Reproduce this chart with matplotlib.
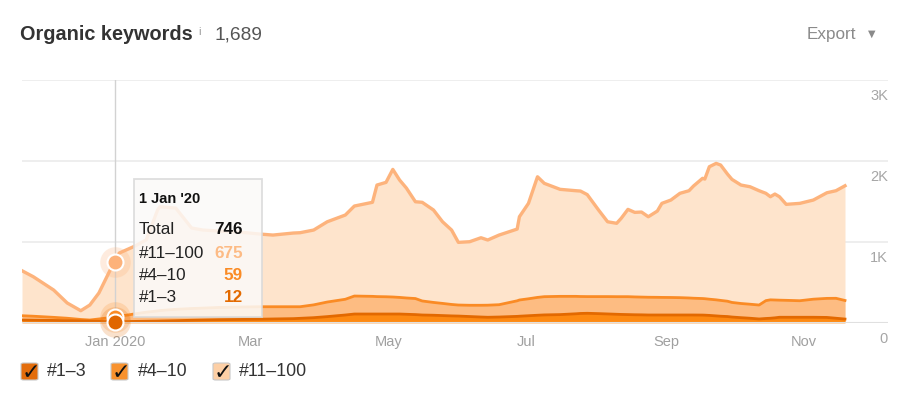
import matplotlib
matplotlib.use("Agg")
import matplotlib.pyplot as plt
import matplotlib.dates as mdates
import matplotlib.patches as mpatches
from matplotlib.transforms import ScaledTranslation
import numpy as np
import pandas as pd

plt.rcParams['font.family'] = ['Liberation Sans', 'DejaVu Sans']

# ---------------- data ----------------
dates = ["2019-11-21", "2019-11-26", "2019-12-05", "2019-12-11", "2019-12-17", "2019-12-21",
         "2019-12-25", "2019-12-30", "2020-01-01", "2020-01-03", "2020-01-08", "2020-01-10",
         "2020-01-15", "2020-01-20", "2020-01-21", "2020-01-28", "2020-02-04", "2020-02-09",
         "2020-02-16", "2020-02-25", "2020-03-05", "2020-03-11", "2020-03-20", "2020-03-23",
         "2020-03-29", "2020-04-04", "2020-04-12", "2020-04-16", "2020-04-24", "2020-04-26",
         "2020-04-30", "2020-05-03", "2020-05-06", "2020-05-09", "2020-05-13", "2020-05-16",
         "2020-05-21", "2020-05-25", "2020-05-29", "2020-06-01", "2020-06-06", "2020-06-11",
         "2020-06-14", "2020-06-19", "2020-06-27", "2020-06-28", "2020-07-02", "2020-07-06",
         "2020-07-09", "2020-07-16", "2020-07-23", "2020-07-25", "2020-07-28", "2020-08-02",
         "2020-08-06", "2020-08-10", "2020-08-12", "2020-08-15", "2020-08-18", "2020-08-21",
         "2020-08-24", "2020-08-28", "2020-08-30", "2020-09-03", "2020-09-07", "2020-09-11",
         "2020-09-13", "2020-09-17", "2020-09-18", "2020-09-20", "2020-09-23", "2020-09-25",
         "2020-09-28", "2020-09-30", "2020-10-04", "2020-10-08", "2020-10-12", "2020-10-15",
         "2020-10-17", "2020-10-19", "2020-10-21", "2020-10-24", "2020-10-30", "2020-11-05",
         "2020-11-11", "2020-11-15", "2020-11-19"]

kw_1_3 = [33, 31, 28, 25, 22, 20, 17, 14, 12, 13, 15, 16,
          18, 20, 21, 25, 30, 33, 37, 40, 43, 46, 50, 54,
          62, 75, 95, 107, 107, 107, 107, 107, 107, 104, 100, 95,
          92, 88, 84, 82, 76, 70, 67, 70, 78, 80, 86, 92,
          96, 100, 110, 114, 116, 112, 108, 104, 102, 100, 98, 97,
          95, 95, 95, 95, 95, 95, 95, 94, 93, 90, 84, 80,
          76, 70, 62, 55, 46, 52, 55, 60, 67, 67, 67, 67,
          65, 55, 45]

kw_4_10 = [53, 49, 38, 30, 18, 13, 29, 48, 59, 67, 85, 94,
           112, 125, 129, 140, 145, 147, 151, 153, 154, 151, 147, 143,
           158, 180, 194, 222, 218, 215, 213, 210, 205, 201, 198, 173,
           158, 150, 141, 136, 139, 145, 149, 152, 192, 200, 209, 220,
           225, 225, 215, 209, 206, 210, 214, 217, 219, 221, 220, 219,
           219, 218, 217, 216, 214, 210, 207, 204, 203, 200, 198, 195,
           189, 180, 175, 173, 172, 220, 227, 220, 211, 209, 204, 223,
           235, 246, 229]

kw_11_100 = [555, 487, 337, 188, 108, 185, 320, 588, 675, 779, 821, 836,
             893, 1248, 1280, 1249, 993, 963, 943, 925, 897, 884, 909, 913,
             923, 990, 1039, 1110, 1160, 1376, 1411, 1574, 1448, 1356, 1194, 1217,
             1140, 1007, 918, 773, 784, 833, 804, 859, 885, 1027, 1177, 1488,
             1398, 1320, 1303, 1301, 1258, 1068, 923, 905, 966, 1077, 1043, 1049,
             993, 1064, 1160, 1202, 1287, 1323, 1384, 1483, 1476, 1634, 1683, 1670,
             1569, 1518, 1461, 1449, 1410, 1324, 1272, 1307, 1276, 1184, 1201, 1223,
             1303, 1327, 1415]

series_labels = ["#1–3", "#4–10", "#11–100"]
x_tick_dates = ["2020-01-01", "2020-03-01", "2020-05-01", "2020-07-01", "2020-09-01", "2020-11-01"]
x_tick_labels = ["Jan 2020", "Mar", "May", "Jul", "Sep", "Nov"]
y_ticks = [0, 1000, 2000, 3000]
y_tick_labels = ["0", "1K", "2K", "3K"]
title_text = "Organic keywords"
title_total = "1,689"
focus_date = "2020-01-01"
focus_label = "1 Jan '20"

# ---------------- styling ----------------
fill_cols = ["#fe8a12", "#fdbc82", "#fee4cc"]
line_cols = ["#e36900", "#fa8b25", "#fdb37c"]
box_cols = ["#e36d0c", "#f8922e", "#fdcfa5"]
val_cols = ["#e36a00", "#fa8b25", "#fdbb85"]

W, H = 917, 399
fig = plt.figure(figsize=(W / 100, H / 100), dpi=100)
fig.patch.set_facecolor("white")


def fx(px):
    return px / W


def fy(py):
    return 1 - py / H


ax = fig.add_axes([fx(22), fy(322.7), fx(888) - fx(22), fy(79.5) - fy(322.7)])

d = pd.to_datetime(dates)
xn = mdates.date2num(d)
s1 = np.array(kw_1_3)
s2 = np.array(kw_4_10)
s3 = np.array(kw_11_100)
c1 = s1
c2 = s1 + s2
c3 = s1 + s2 + s3

ax.fill_between(d, 0, c3, color=fill_cols[2], lw=0, zorder=2)
ax.fill_between(d, 0, c2, color=fill_cols[1], lw=0, zorder=3)
ax.fill_between(d, 0, c1, color=fill_cols[0], lw=0, zorder=4)
ax.plot(d, c3, color=line_cols[2], lw=2.4, zorder=5, solid_joinstyle='round')
ax.plot(d, c2, color=line_cols[1], lw=2.0, zorder=5, solid_joinstyle='round')
ax.plot(d, c1, color=line_cols[0], lw=2.0, zorder=6, solid_joinstyle='round')

# x range: data starts at left edge, ends at 845 px of an axes spanning 22..888 px
px_per_day = (845 - 22) / (xn[-1] - xn[0])
ax.set_xlim(xn[0], xn[0] + (888 - 22) / px_per_day)
ax.set_ylim(0, 3000)

for sp in ax.spines.values():
    sp.set_visible(False)
ax.set_yticks(y_ticks, labels=y_tick_labels)
ax.grid(axis='y', color="#ebebeb", lw=1.2, zorder=1)
ax.set_axisbelow(True)
ax.axhline(0, color="#e0e0e0", lw=1.5, zorder=7)
ax.yaxis.tick_right()
ax.tick_params(axis='y', length=0, pad=0, labelsize=10.5, labelcolor="#a6a6a6")
off = ScaledTranslation(0, -16 / 100, fig.dpi_scale_trans)
for lab in ax.get_yticklabels():
    lab.set_ha('right')
    lab.set_va('center')
    lab.set_transform(lab.get_transform() + off)

ax.set_xticks(mdates.date2num(pd.to_datetime(x_tick_dates)), labels=x_tick_labels)
ax.tick_params(axis='x', length=0, pad=9, labelsize=10.5, labelcolor="#a0a0a0")

# crosshair & markers
fi = dates.index(focus_date)
fd = d[fi]
ax.axvline(fd, color="#d2d2d2", lw=1, zorder=8)
ax.plot([fd], [c3[fi]], 'o', ms=22, color=line_cols[2], alpha=0.25, mew=0, zorder=9, clip_on=False)
ax.plot([fd], [c3[fi]], 'o', ms=11.5, color="#fdb27a", mec="white", mew=1.5, zorder=10, clip_on=False)
ax.plot([fd], [c2[fi]], 'o', ms=22, color=line_cols[1], alpha=0.2, mew=0, zorder=9, clip_on=False)
ax.plot([fd], [c2[fi]], 'o', ms=11.5, color=line_cols[1], mec="white", mew=1.5, zorder=10, clip_on=False)
ax.plot([fd], [c1[fi]], 'o', ms=22, color=line_cols[0], alpha=0.2, mew=0, zorder=9, clip_on=False)
ax.plot([fd], [c1[fi]], 'o', ms=11.5, color="#e06600", mec="white", mew=1.5, zorder=11, clip_on=False)

# tooltip
tip = mpatches.Rectangle((fx(134), fy(317)), fx(262) - fx(134), fy(179) - fy(317),
                         transform=fig.transFigure, facecolor="#fbfaf9", alpha=0.86,
                         edgecolor="#d9d9d9", lw=1.3, zorder=20)
fig.add_artist(tip)
fig.text(fx(139), fy(199), focus_label, fontsize=10.5, fontweight='bold', color="#111111",
         va='center', ha='left', zorder=21)
rows = [("Total", int(c3[fi]), "#111111"),
        (series_labels[2], int(s3[fi]), val_cols[2]),
        (series_labels[1], int(s2[fi]), val_cols[1]),
        (series_labels[0], int(s1[fi]), val_cols[0])]
row_y = [230, 253, 276, 298]
for (lab, val, col), yy in zip(rows, row_y):
    fig.text(fx(139), fy(yy), lab, fontsize=12.3, color="#222222", va='center', ha='left', zorder=21)
    fig.text(fx(243), fy(yy), f"{val}", fontsize=12.3, fontweight='bold', color=col,
             va='center', ha='right', zorder=21)

# header
fig.text(fx(20), fy(35), title_text, fontsize=14.3, fontweight='bold', color="#333333",
         va='center', ha='left')
fig.text(fx(198), fy(32), "i", fontsize=8, color="#999999", va='center', ha='left')
fig.text(fx(214), fy(35), title_total, fontsize=13.8, color="#555555", va='center', ha='left')
fig.text(fx(856), fy(34), "Export", fontsize=12.3, color="#8a8a8a", va='center', ha='right')
fig.text(fx(872), fy(34), "▼", fontsize=7, color="#8a8a8a", va='center', ha='center',
         family=['DejaVu Sans'])

# legend
box_x = [21, 111, 213]
text_x = [47, 138, 239]
for bx, tx, col, lab in zip(box_x, text_x, box_cols, series_labels):
    box = mpatches.FancyBboxPatch((fx(bx), fy(380)), fx(bx + 17) - fx(bx), fy(363) - fy(380),
                                  boxstyle="round,pad=0,rounding_size=0.003",
                                  transform=fig.transFigure, facecolor=col,
                                  edgecolor="#c8c8c8", lw=0.8)
    fig.add_artist(box)
    fig.text(fx(bx + 9.5), fy(373), "✓", fontsize=16, fontweight='bold', color="#111111",
             va='center', ha='center', family=['DejaVu Sans'])
    fig.text(fx(tx), fy(372), lab, fontsize=12.8, color="#333333", va='center', ha='left')

fig.savefig("out.png", dpi=100, facecolor="white")
